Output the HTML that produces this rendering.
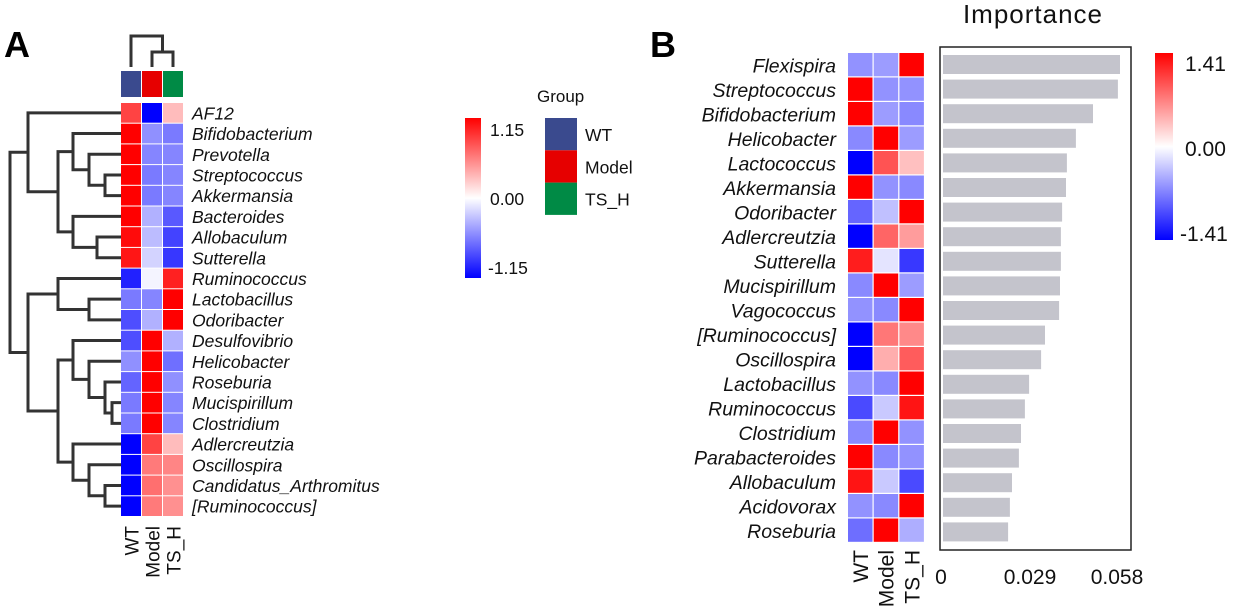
<!DOCTYPE html>
<html><head><meta charset="utf-8">
<style>
html,body{margin:0;padding:0;background:#fff;}
svg{display:block;font-family:"Liberation Sans",Arial,sans-serif;}
</style></head>
<body>
<svg id="fig" width="1234" height="613" viewBox="0 0 1234 613">
  <text x="4" y="57" font-size="36" font-weight="bold">A</text>
  <text x="650" y="57" font-size="36" font-weight="bold">B</text>
  <g id="panelA"></g>
  <g id="panelB"></g>
  <g id="bars"></g>
</svg>
<script>
// ---------- Panel A data ----------
const groupsA = ["WT","Model","TS_H"];
const taxaA = ["AF12","Bifidobacterium","Prevotella","Streptococcus","Akkermansia","Bacteroides","Allobaculum","Sutterella","Ruminococcus","Lactobacillus","Odoribacter","Desulfovibrio","Helicobacter","Roseburia","Mucispirillum","Clostridium","Adlercreutzia","Oscillospira","Candidatus_Arthromitus","[Ruminococcus]"];
const wtA    = [0.85,1.15,1.15,1.15,1.15,1.15,1.1,1.05,-1.0,-0.6,-0.8,-0.8,-0.5,-0.7,-0.6,-0.6,-1.15,-1.15,-1.15,-1.15];
const modelA = [-1.15,-0.5,-0.55,-0.6,-0.6,-0.35,-0.3,-0.2,-0.05,-0.55,-0.35,1.15,1.15,1.15,1.15,1.15,0.85,0.6,0.65,0.6];
const tshA   = [0.3,-0.6,-0.55,-0.55,-0.55,-0.75,-0.85,-0.9,1.0,1.15,1.15,-0.35,-0.65,-0.5,-0.55,-0.55,0.3,0.55,0.5,0.5];
const limA = 1.15;
const tickLabelsA = ["1.15","0.00","-1.15"];
const groupColors = ["#3a4a8e","#e60000","#008a45"];
// merges: [left, right, height(x px)] ; leaves numeric, merges "m#"
const mergesA = [[3,4,105],[2,"m0",89],[1,"m1",73],[6,7,97],[5,"m3",73],["m2","m4",58],[0,"m5",28],[9,10,89],[8,"m7",58],[14,15,112],[13,"m9",105],[12,"m10",89],[11,"m11",73],[18,19,105],[17,"m13",89],[16,"m14",73],["m12","m15",58],["m8","m16",28],["m6","m17",10]];

// ---------- Panel B data ----------
const taxaB = ["Flexispira","Streptococcus","Bifidobacterium","Helicobacter","Lactococcus","Akkermansia","Odoribacter","Adlercreutzia","Sutterella","Mucispirillum","Vagococcus","[Ruminococcus]","Oscillospira","Lactobacillus","Ruminococcus","Clostridium","Parabacteroides","Allobaculum","Acidovorax","Roseburia"];
const wtB    = [-0.6,1.41,1.41,-0.65,-1.41,1.41,-0.85,-1.41,1.25,-0.65,-0.6,-1.41,-1.41,-0.6,-1.0,-0.65,1.41,1.3,-0.6,-0.8];
const modelB = [-0.55,-0.6,-0.55,1.41,0.95,-0.6,-0.35,0.85,-0.15,1.41,-0.65,0.75,0.45,-0.65,-0.3,1.41,-0.65,-0.3,-0.65,1.41];
const tshB   = [1.41,-0.6,-0.65,-0.55,0.35,-0.65,1.41,0.55,-1.1,-0.55,1.41,0.65,0.9,1.41,1.3,-0.6,-0.6,-1.0,1.41,-0.45];
const limB = 1.41;
const tickLabelsB = ["1.41","0.00","-1.41"];
const importance = [0.059,0.0583,0.050,0.0443,0.0413,0.041,0.0397,0.0393,0.0393,0.039,0.0387,0.034,0.0327,0.0287,0.0273,0.026,0.0253,0.023,0.0223,0.0217];
const impTicks = [0,0.029,0.058];
const impTickLabels = ["0","0.029","0.058"];

const NS="http://www.w3.org/2000/svg";
function mk(tag,attrs,parent){const e=document.createElementNS(NS,tag);for(const k in attrs)e.setAttribute(k,attrs[k]);parent.appendChild(e);return e;}
function col(v,lim){let t=Math.max(-1,Math.min(1,v/lim));
  if(t>=0){const c=Math.round(255*(1-t));return `rgb(255,${c},${c})`;}
  const c=Math.round(255*(1+t));return `rgb(${c},${c},255)`;}

// ===== Panel A =====
const A=document.getElementById('panelA');
const axL=121, aCw=21, aTop=103, aRh=20.7;
const xA=i=>axL+i*aCw, yA=r=>aTop+r*aRh;
const seriesA=[wtA,modelA,tshA];
seriesA.forEach((s,c)=>s.forEach((v,r)=>{
  const rc=mk('rect',{x:xA(c),y:yA(r),width:aCw-1,height:aRh-1,fill:col(v,limA)},A);
  
  
}));
taxaA.forEach((t,r)=>{
  const tx=mk('text',{x:192,y:yA(r)+aRh/2+6,'font-size':17.5,'font-style':'italic',fill:'#111'},A);
  tx.textContent=t;
  
  
});
groupsA.forEach((g,c)=>{
  const cx=xA(c)+aCw/2+7;
  const tx=mk('text',{x:cx,y:526,'font-size':19,'text-anchor':'end',transform:`rotate(-90 ${cx} 526)`,fill:'#111'},A);
  tx.textContent=g;
  
  
  const rc=mk('rect',{x:xA(c),y:71,width:aCw-1,height:26,fill:groupColors[c]},A);
  
  
});
// column dendrogram
const cd=mk('g',{stroke:'#333','stroke-width':3,fill:'none'},A);


const cxs=[0,1,2].map(c=>xA(c)+aCw/2-0.5);
mk('path',{d:`M${cxs[1]},67 V52 H${cxs[2]} V67`},cd);
mk('path',{d:`M${cxs[0]},67 V36 H${(cxs[1]+cxs[2])/2} V52`},cd);
// row dendrogram
const rd=mk('g',{stroke:'#333','stroke-width':3,fill:'none'},A);


const nodes={};
const leafPos=i=>({x:axL,y:yA(i)+aRh/2-0.5});
function getNode(n){return typeof n==='number'?leafPos(n):nodes[n];}
mergesA.forEach((m,i)=>{
  const a=getNode(m[0]), b=getNode(m[1]), h=m[2];
  mk('path',{d:`M${a.x},${a.y} H${h} V${b.y} H${b.x}`},rd);
  nodes['m'+i]={x:h,y:(a.y+b.y)/2};
});
// legend A
const defs=mk('defs',{},document.getElementById('fig'));
const gradA=mk('linearGradient',{id:'gA',x1:0,y1:0,x2:0,y2:1},defs);
mk('stop',{offset:'0%','stop-color':'#ff0000'},gradA);
mk('stop',{offset:'50%','stop-color':'#ffffff'},gradA);
mk('stop',{offset:'100%','stop-color':'#0000ff'},gradA);
const cbA=mk('rect',{x:465,y:118,width:16,height:160,fill:'url(#gA)'},A);


tickLabelsA.forEach((t,i)=>{
  const tx=mk('text',{x:i==2?488:490,y:136+i*69,'font-size':17.5,fill:'#111'},A);
  tx.textContent=t;
  
  
});
const gt=mk('text',{x:537,y:102,'font-size':17,fill:'#111'},A);
gt.textContent='Group';


groupsA.forEach((g,i)=>{
  const rc=mk('rect',{x:545,y:118+i*32.3,width:32,height:32.3,fill:groupColors[i]},A);
  
  
  const tx=mk('text',{x:585,y:141+i*32.3,'font-size':17.5,fill:'#111'},A);
  tx.textContent=g;
  
  
});

// ===== Panel B =====
const B=document.getElementById('panelB');
const bxL=848, bCw=25.7, bTop=53, bRh=24.5;
const xB=i=>bxL+i*bCw, yB=r=>bTop+r*bRh;
[wtB,modelB,tshB].forEach((s,c)=>s.forEach((v,r)=>{
  const rc=mk('rect',{x:xB(c),y:yB(r),width:bCw-1.2,height:bRh-1.2,fill:col(v,limB)},B);
  
  
}));
taxaB.forEach((t,r)=>{
  const tx=mk('text',{x:836,y:yB(r)+bRh/2+7,'font-size':19.5,'font-style':'italic','text-anchor':'end',fill:'#111'},B);
  tx.textContent=t;
  
  
});
groupsA.forEach((g,c)=>{
  const cx=xB(c)+bCw/2+7;
  const tx=mk('text',{x:cx,y:550,'font-size':21,'text-anchor':'end',transform:`rotate(-90 ${cx} 550)`,fill:'#111'},B);
  tx.textContent=g;
  
  
});
const gradB=mk('linearGradient',{id:'gB',x1:0,y1:0,x2:0,y2:1},defs);
mk('stop',{offset:'0%','stop-color':'#ff0000'},gradB);
mk('stop',{offset:'50%','stop-color':'#ffffff'},gradB);
mk('stop',{offset:'100%','stop-color':'#0000ff'},gradB);
const cbB=mk('rect',{x:1155,y:53,width:18,height:187,fill:'url(#gB)'},B);


tickLabelsB.forEach((t,i)=>{
  const tx=mk('text',{x:i==2?1180:1185,y:71+i*85,'font-size':21,fill:'#111'},B);
  tx.textContent=t;
  
  
});

// ===== Importance bars =====
const G=document.getElementById('bars');
const x0=943, pxPerUnit=87/0.029;
const xI=v=>x0+v*pxPerUnit;
const frame=mk('rect',{x:940,y:47,width:191,height:503,fill:'none',stroke:'#222','stroke-width':1.5},G);


importance.forEach((v,r)=>{
  const rc=mk('rect',{x:xI(0),y:55+r*24.6,width:xI(v)-xI(0),height:19,fill:'#c4c4cc'},G);
  
  
});
impTicks.forEach((t,i)=>{
  const tx=mk('text',{x:xI(t)-(i==0?2:0),y:584,'font-size':21,'text-anchor':'middle',fill:'#111'},G);
  tx.textContent=impTickLabels[i];
  
  
});
const title=mk('text',{x:1033,y:23,'font-size':26,'text-anchor':'middle',fill:'#111','letter-spacing':'1'},G);
title.textContent='Importance';


</script>
</body></html>
